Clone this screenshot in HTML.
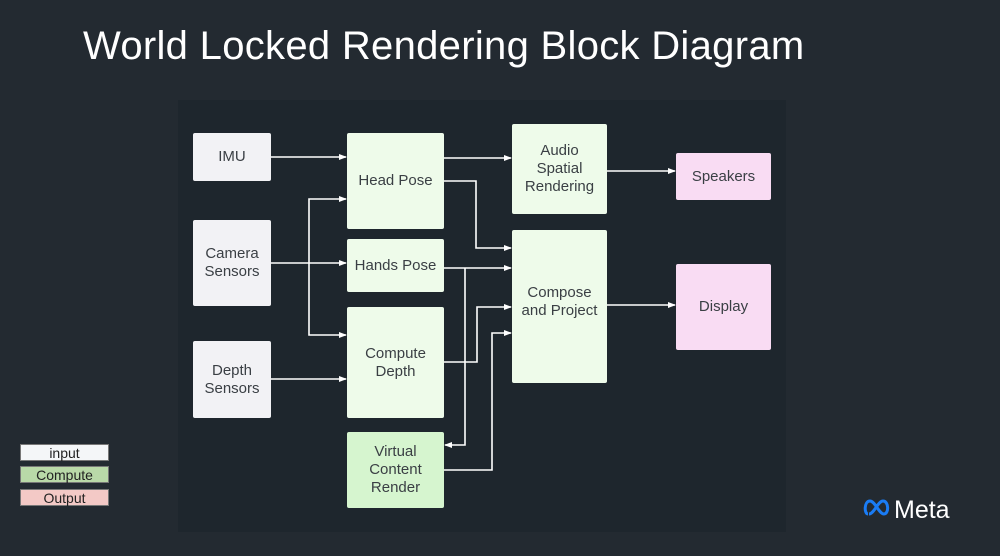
<!DOCTYPE html>
<html><head><style>
body{margin:0;width:1000px;height:556px;background:#232a31;overflow:hidden;font-family:"Liberation Sans",sans-serif;position:relative}
.t{position:absolute;left:83px;top:24px;color:#fff;font-size:40px;letter-spacing:0.3px}
.area{position:absolute;left:178px;top:100px;width:608px;height:432px;background:#1e262d}
.b{position:absolute;display:flex;align-items:center;justify-content:center;text-align:center;font-size:15px;color:#3a3f44;border-radius:2px;line-height:18px}
.i{background:#f2f2f5}.c{background:#eefbea}.o{background:#f9dcf3}
.lg{position:absolute;left:20px;width:89px;height:17px;font-size:14px;text-align:center;line-height:17px;color:#222;border:1px solid #777;box-sizing:border-box}
</style></head><body>
<div class="t">World Locked Rendering Block Diagram</div>
<div class="area"></div>
<div class="b i" style="left:193px;top:133px;width:78px;height:48px">IMU</div>
<div class="b i" style="left:193px;top:220px;width:78px;height:86px">Camera<br>Sensors</div>
<div class="b i" style="left:193px;top:341px;width:78px;height:77px">Depth<br>Sensors</div>
<div class="b c" style="left:347px;top:133px;width:97px;height:96px">Head Pose</div>
<div class="b c" style="left:347px;top:239px;width:97px;height:53px">Hands Pose</div>
<div class="b c" style="left:347px;top:307px;width:97px;height:111px">Compute<br>Depth</div>
<div class="b c" style="left:347px;top:432px;width:97px;height:76px;background:#d6f5cf">Virtual<br>Content<br>Render</div>
<div class="b c" style="left:512px;top:124px;width:95px;height:90px">Audio<br>Spatial<br>Rendering</div>
<div class="b c" style="left:512px;top:230px;width:95px;height:153px;padding-bottom:10px;box-sizing:border-box">Compose<br>and Project</div>
<div class="b o" style="left:676px;top:153px;width:95px;height:47px">Speakers</div>
<div class="b o" style="left:676px;top:264px;width:95px;height:86px">Display</div>
<svg width="1000" height="556" style="position:absolute;left:0;top:0">
<defs><marker id="a" markerWidth="8" markerHeight="8" refX="7" refY="4" orient="auto" markerUnits="userSpaceOnUse"><path d="M0,1 L8,4 L0,7z" fill="#fff"/></marker></defs>
<g stroke="#fff" stroke-width="1.6" fill="none" marker-end="url(#a)">
<path d="M271,157H346"/>
<path d="M444,158H511"/>
<path d="M444,181H476V248H511"/>
<path d="M271,263H346"/>
<path d="M309,263V199H346"/>
<path d="M309,263V335H346"/>
<path d="M271,379H346"/>
<path d="M444,268H511"/>
<path d="M465,268V445H445"/>
<path d="M444,362H477V307H511"/>
<path d="M444,470H492V333H511"/>
<path d="M607,171H675"/>
<path d="M607,305H675"/>
</g></svg>
<div class="lg" style="top:444px;background:#f4f6f8">input</div>
<div class="lg" style="top:466px;background:#b9d9a8">Compute</div>
<div class="lg" style="top:489px;background:#f3c9c6">Output</div>
<svg width="110" height="34" style="position:absolute;left:862px;top:492px">
<path d="M6,22 C2,22 2,9 8,9 C13,9 17,22 22,22 C27,22 27,9 21,9 C16,9 12,22 7,22" stroke="#1a7cf5" stroke-width="3" fill="none"/>
<text x="32" y="26" fill="#fff" font-family="Liberation Sans,sans-serif" font-size="25">Meta</text>
</svg>
</body></html>
